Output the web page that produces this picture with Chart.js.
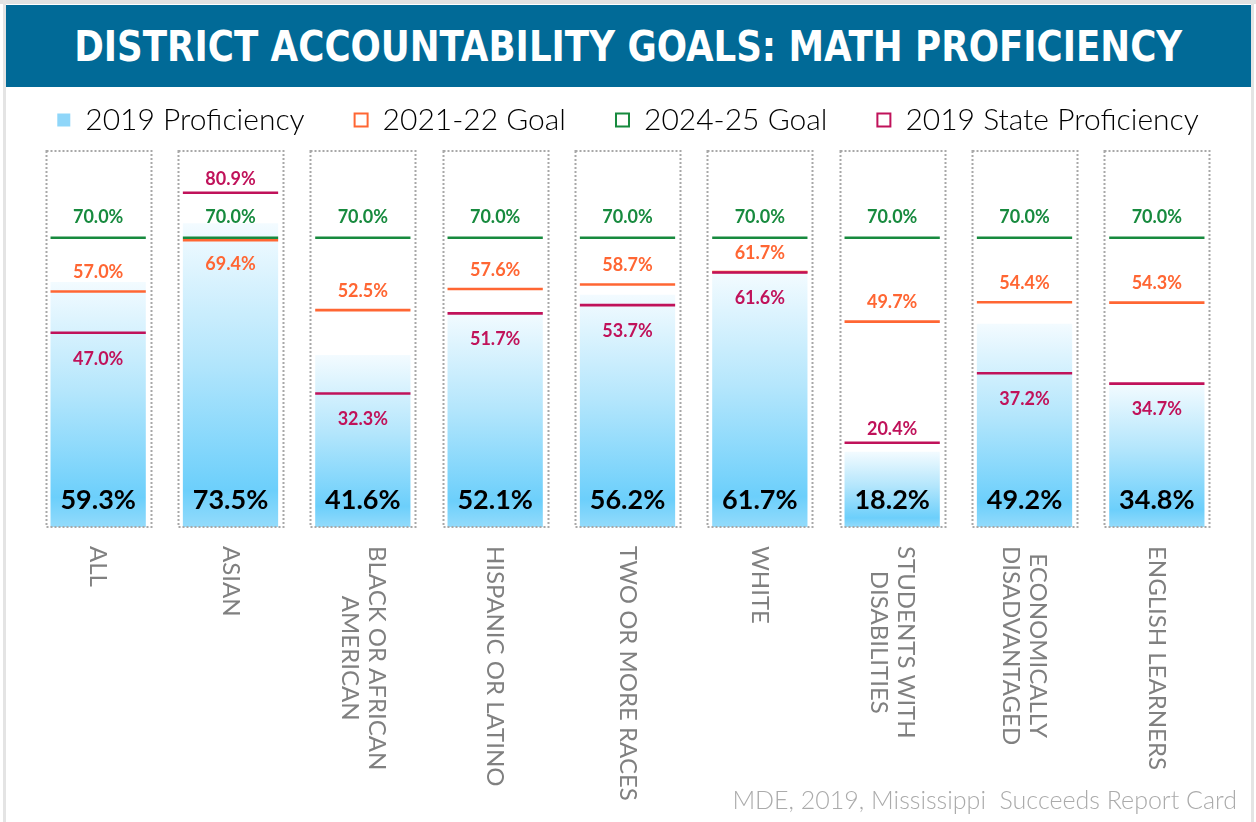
<!DOCTYPE html>
<html>
<head>
<meta charset="utf-8">
<script src="https://cdn.jsdelivr.net/npm/chart.js@4.4.1/dist/chart.umd.min.js"></script>
<style>
html,body{margin:0;padding:0;background:#fff;}
#page{position:relative;width:1256px;height:822px;overflow:hidden;background:#fff;}
#topline{position:absolute;left:0;top:0;width:1256px;height:4px;background:#e2e2e2;z-index:4;}
#frameL{position:absolute;left:3px;top:0;width:3px;height:822px;background:#e4e4e4;z-index:4;}
#frameR{position:absolute;left:1251px;top:0;width:3px;height:822px;background:#e4e4e4;z-index:4;}
#banner{position:absolute;left:5px;top:5px;width:1247px;height:82px;background:#016a97;z-index:3;display:flex;align-items:center;justify-content:center;}
#title{color:#fff;font-family:"Liberation Sans Narrow","DejaVu Sans Condensed",sans-serif;font-weight:bold;font-size:42px;white-space:nowrap;transform-origin:center center;display:inline-block;}
#cwrap{position:absolute;left:0;top:0;width:1256px;height:822px;z-index:1;}
#source{position:absolute;right:19px;top:784px;font-family:Lato,"Open Sans",sans-serif;font-weight:300;font-size:25px;color:#ababab;z-index:3;white-space:pre;}
</style>
</head>
<body>
<div id="page">
  <div id="cwrap"><canvas id="chart" width="1256" height="822"></canvas></div>
  <div id="banner"><span id="title">DISTRICT ACCOUNTABILITY GOALS: MATH PROFICIENCY</span></div>
  <div id="topline"></div><div id="frameL"></div><div id="frameR"></div>
  <div id="source">MDE, 2019, Mississippi  Succeeds Report Card</div>
</div>
<script>
// ---- data ----
const categories = [
  ["ALL"],
  ["ASIAN"],
  ["BLACK OR AFRICAN", "AMERICAN"],
  ["HISPANIC OR LATINO"],
  ["TWO OR MORE RACES"],
  ["WHITE"],
  ["STUDENTS WITH", "DISABILITIES"],
  ["ECONOMICALLY", "DISADVANTAGED"],
  ["ENGLISH LEARNERS"]
];
const proficiency2019 = [59.3, 73.5, 41.6, 52.1, 56.2, 61.7, 18.2, 49.2, 34.8];
const goal2122 = [57.0, 69.4, 52.5, 57.6, 58.7, 61.7, 49.7, 54.4, 54.3];
const goal2425 = [70.0, 70.0, 70.0, 70.0, 70.0, 70.0, 70.0, 70.0, 70.0];
const stateProficiency2019 = [47.0, 80.9, 32.3, 51.7, 53.7, 61.6, 20.4, 37.2, 34.7];
const seriesNames = ["2019 Proficiency", "2021-22 Goal", "2024-25 Goal", "2019 State Proficiency"];

// ---- styles ----
const C_ORANGE = '#ff6633', C_GREEN = '#178a3e', C_CRIMSON = '#c0125a';
const BAR_FRAC = 0.72, BOX_FRAC = 0.795;
const FONT = 'Lato, "Open Sans", sans-serif';

// fit title to width
(function(){
  const t = document.getElementById('title');
  const w = t.getBoundingClientRect().width;
  const target = 1108;
  t.style.transform = 'scaleX(' + (target / w) + ')';
})();

function catWidth(chart){
  const xs = chart.scales.x;
  return xs ? xs.width / categories.length : 132;
}

const boxPlugin = {
  id: 'boxes',
  afterDatasetsDraw(chart){
    const {ctx, chartArea, scales:{x}} = chart;
    const half = catWidth(chart) * BOX_FRAC / 2;
    ctx.save();
    ctx.strokeStyle = '#a8a8a8';
    ctx.lineWidth = 2;
    ctx.setLineDash([2, 2]);
    categories.forEach((c, i) => {
      const cx = x.getPixelForValue(i);
      ctx.strokeRect(Math.round(cx - half) + 0.5, chartArea.top, Math.round(2*half), chartArea.bottom - chartArea.top);
    });
    ctx.restore();
  }
};

const labelPlugin = {
  id: 'valueLabels',
  afterDatasetsDraw(chart){
    const ctx = chart.ctx;
    const y = chart.scales.y;
    ctx.save();
    ctx.textAlign = 'center';
    ctx.textBaseline = 'middle';
    // bar value labels
    const barMeta = chart.getDatasetMeta(0);
    ctx.font = 'bold 27px ' + FONT;
    ctx.fillStyle = '#000';
    barMeta.data.forEach((el, i) => {
      ctx.fillText(proficiency2019[i].toFixed(1) + '%', el.x, y.getPixelForValue(0) - 27);
    });
    // goal / state labels
    ctx.font = 'bold 18px ' + FONT;
    const lineSets = [
      {idx: 1, data: goal2122, color: C_ORANGE},
      {idx: 2, data: goal2425, color: C_GREEN},
      {idx: 3, data: stateProficiency2019, color: C_CRIMSON}
    ];
    lineSets.forEach(s => {
      const meta = chart.getDatasetMeta(s.idx);
      ctx.fillStyle = s.color;
      meta.data.forEach((el, i) => {
        const v = s.data[i];
        let dy;
        if (s.idx === 2) dy = -21;
        else if (s.idx === 1) dy = (goal2425[i] - v < 3) ? 24 : -19;
        else dy = (v > proficiency2019[i]) ? -14 : 26;
        ctx.fillText(v.toFixed(1) + '%', el.x, el.y + dy);
      });
    });
    ctx.restore();
  }
};

const xLabelPlugin = {
  id: 'xLabels',
  afterDraw(chart){
    const ctx = chart.ctx;
    const xs = chart.scales.x;
    const top = chart.chartArea.bottom + 19;
    const lh = 27;
    ctx.save();
    ctx.font = '24px ' + FONT;
    ctx.fillStyle = '#808080';
    ctx.textAlign = 'center';
    ctx.textBaseline = 'middle';
    categories.forEach((lines, i) => {
      const cx = xs.getPixelForValue(i);
      const maxW = Math.max(...lines.map(l => ctx.measureText(l).width));
      ctx.save();
      ctx.translate(cx, top);
      ctx.rotate(Math.PI / 2);
      lines.forEach((l, j) => {
        ctx.fillText(l, maxW / 2, (j - (lines.length - 1) / 2) * lh);
      });
      ctx.restore();
    });
    ctx.restore();
  }
};

// keep the legend on one row across the full page width, with a fixed height above the plot
const legendFitPlugin = {
  id: 'legendFit',
  afterInit(chart){
    const lg = chart.legend;
    if (!lg) return;
    const orig = lg.fit.bind(lg);
    lg.fit = function(){
      const mw = this.maxWidth;
      this.maxWidth = 5000;
      orig();
      this.maxWidth = mw;
      this.width = mw;
      this.height = 96;
    };
  },
  afterLayout(chart){
    const lg = chart.legend;
    if (!lg) return;
    lg.left = 0;
    lg.right = chart.width;
    lg.width = chart.width;
  }
};

const pointR = (c) => catWidth(c.chart) * BAR_FRAC / 2;

const barFill = (c) => {
  const ch = c.chart;
  const ys = ch.scales.y;
  if (!ys || c.type !== 'data') return '#8fd6f9';
  const top = ys.getPixelForValue(c.raw);
  const bot = ys.getPixelForValue(0);
  if (!isFinite(top) || !isFinite(bot) || bot - top < 1) return '#8fd6f9';
  const g = ch.ctx.createLinearGradient(0, top, 0, bot);
  g.addColorStop(0, '#f3fbff');
  g.addColorStop(0.45, '#b4e6fc');
  g.addColorStop(0.88, '#6ccffb');
  g.addColorStop(1, '#93dbfb');
  return g;
};

const lineDs = (label, data, color, order) => ({
  type: 'line', label, data, order,
  showLine: false,
  pointStyle: 'line',
  pointRadius: pointR,
  pointHoverRadius: pointR,
  pointBorderWidth: 2.6,
  pointHoverBorderWidth: 2.6,
  pointBorderColor: color,
  pointBackgroundColor: color,
  borderColor: color,
  backgroundColor: '#fff'
});

new Chart(document.getElementById('chart'), {
  type: 'bar',
  data: {
    labels: categories,
    datasets: [
      { label: seriesNames[0], data: proficiency2019, backgroundColor: barFill, borderWidth: 0,
        barPercentage: BAR_FRAC, categoryPercentage: 1.0, order: 4 },
      lineDs(seriesNames[1], goal2122, C_ORANGE, 3),
      lineDs(seriesNames[2], goal2425, C_GREEN, 2),
      lineDs(seriesNames[3], stateProficiency2019, C_CRIMSON, 1)
    ]
  },
  options: {
    responsive: false,
    animation: false,
    events: [],
    layout: { padding: { left: 32, right: 33, top: 55, bottom: 295 } },
    scales: {
      x: { display: false, offset: true, grid: { display: false } },
      y: { display: false, min: 0, max: 91 }
    },
    plugins: {
      tooltip: { enabled: false },
      title: { display: false },
      legend: {
        display: true,
        position: 'top',
        align: 'center',
        labels: {
          font: { family: FONT, size: 30, weight: 300 },
          color: '#7a7a7a',
          boxWidth: 13,
          boxHeight: 13,
          padding: 50,
          generateLabels: () => [
            { text: seriesNames[0], fillStyle: '#8fd6f9', strokeStyle: '#8fd6f9', lineWidth: 0, hidden: false, datasetIndex: 0 },
            { text: seriesNames[1], fillStyle: '#ffffff', strokeStyle: C_ORANGE, lineWidth: 2, hidden: false, datasetIndex: 1 },
            { text: seriesNames[2], fillStyle: '#ffffff', strokeStyle: C_GREEN, lineWidth: 2, hidden: false, datasetIndex: 2 },
            { text: seriesNames[3], fillStyle: '#ffffff', strokeStyle: C_CRIMSON, lineWidth: 2, hidden: false, datasetIndex: 3 }
          ]
        }
      }
    }
  },
  plugins: [legendFitPlugin, boxPlugin, labelPlugin, xLabelPlugin]
});
</script>
</body>
</html>
